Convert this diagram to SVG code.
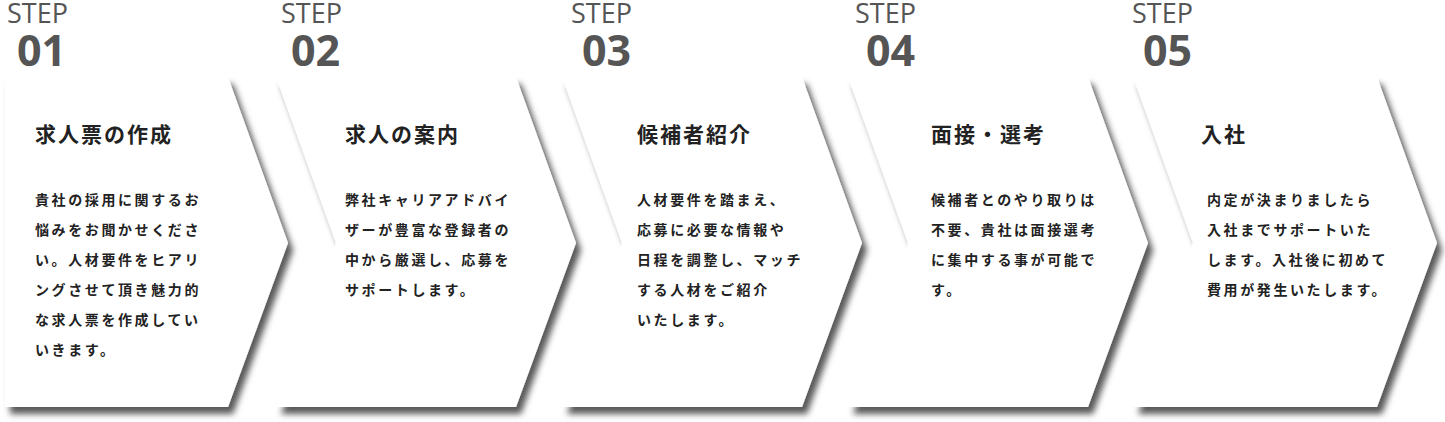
<svg xmlns="http://www.w3.org/2000/svg" width="1445" height="422" viewBox="0 0 1445 422">
<defs>
<filter id="sh" x="-10%" y="-10%" width="130%" height="130%"><feDropShadow dx="5" dy="7" stdDeviation="3" flood-color="#000" flood-opacity="0.65"/></filter>
<style>
.step{font-family:"Open Sans","Noto Sans",sans-serif;font-size:27px;fill:#555}
.num{font-family:"Open Sans","Noto Sans",sans-serif;font-size:43px;font-weight:bold;fill:#555}
.ttl{font-family:"Noto Sans CJK JP",sans-serif;font-size:21px;font-weight:bold;fill:#222;letter-spacing:2px}
.bd{font-family:"Noto Sans CJK JP",sans-serif;font-size:14px;font-weight:bold;fill:#222;letter-spacing:2.6px}
.box{fill:#fff;filter:url(#sh)}
</style>
</defs>
<rect width="1445" height="422" fill="#fff"/>
<g id="step1">
<path class="box" d="M5 77H228L288 243L228 407H5Z"/>
<text class="step" x="7" y="23">STEP</text><text class="num" x="17" y="66">01</text>
<text class="ttl" x="35" y="142">求人票の作成</text>
<text class="bd"><tspan x="35" y="205">貴社の採用に関するお</tspan><tspan x="35" y="235">悩みをお聞かせくださ</tspan><tspan x="35" y="265">い。人材要件をヒアリ</tspan><tspan x="35" y="295">ングさせて頂き魅力的</tspan><tspan x="35" y="325">な求人票を作成してい</tspan><tspan x="35" y="355">いきます。</tspan></text>
</g>
<g id="step2">
<path class="box" d="M276 77H516L576 243L516 407H276L336 243Z"/>
<text class="step" x="281" y="23">STEP</text><text class="num" x="291" y="66">02</text>
<text class="ttl" x="345" y="142">求人の案内</text>
<text class="bd"><tspan x="345" y="205">弊社キャリアアドバイ</tspan><tspan x="345" y="235">ザーが豊富な登録者の</tspan><tspan x="345" y="265">中から厳選し、応募を</tspan><tspan x="345" y="295">サポートします。</tspan></text>
</g>
<g id="step3">
<path class="box" d="M562 77H802L862 243L802 407H562L622 243Z"/>
<text class="step" x="571" y="23">STEP</text><text class="num" x="582" y="66">03</text>
<text class="ttl" x="637" y="142">候補者紹介</text>
<text class="bd"><tspan x="637" y="205">人材要件を踏まえ、</tspan><tspan x="637" y="235">応募に必要な情報や</tspan><tspan x="637" y="265">日程を調整し、マッチ</tspan><tspan x="637" y="295">する人材をご紹介</tspan><tspan x="637" y="325">いたします。</tspan></text>
</g>
<g id="step4">
<path class="box" d="M848 77H1088L1148 243L1088 407H848L908 243Z"/>
<text class="step" x="855" y="23">STEP</text><text class="num" x="866" y="66">04</text>
<text class="ttl" x="931" y="142">面接・選考</text>
<text class="bd"><tspan x="931" y="205">候補者とのやり取りは</tspan><tspan x="931" y="235">不要、貴社は面接選考</tspan><tspan x="931" y="265">に集中する事が可能で</tspan><tspan x="931" y="295">す。</tspan></text>
</g>
<g id="step5">
<path class="box" d="M1133 77H1377L1437 243L1377 407H1133L1193 243Z"/>
<text class="step" x="1132" y="23">STEP</text><text class="num" x="1143" y="66">05</text>
<text class="ttl" x="1201" y="142">入社</text>
<text class="bd"><tspan x="1207" y="205">内定が決まりましたら</tspan><tspan x="1207" y="235">入社までサポートいた</tspan><tspan x="1207" y="265">します。入社後に初めて</tspan><tspan x="1207" y="295">費用が発生いたします。</tspan></text>
</g>
<g id="connectors"/>
</svg>
